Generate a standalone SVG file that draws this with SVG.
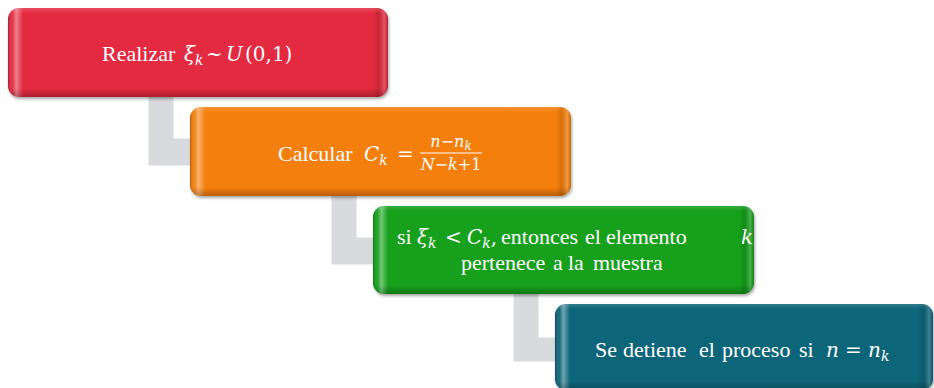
<svg xmlns="http://www.w3.org/2000/svg" width="934" height="388" viewBox="0 0 934 388">
<defs>
<linearGradient id="hbev" x1="0" y1="0" x2="1" y2="0">
<stop offset="0" stop-color="#000" stop-opacity="0.25"/>
<stop offset="0.012" stop-color="#fff" stop-opacity="0.05"/>
<stop offset="0.022" stop-color="#fff" stop-opacity="0.4"/>
<stop offset="0.04" stop-color="#fff" stop-opacity="0"/>
<stop offset="0.96" stop-color="#000" stop-opacity="0"/>
<stop offset="0.975" stop-color="#000" stop-opacity="0.12"/>
<stop offset="0.99" stop-color="#fff" stop-opacity="0.2"/>
<stop offset="1" stop-color="#000" stop-opacity="0.2"/>
</linearGradient>
<linearGradient id="vbev" x1="0" y1="0" x2="0" y2="1">
<stop offset="0" stop-color="#fff" stop-opacity="0.15"/>
<stop offset="0.06" stop-color="#fff" stop-opacity="0"/>
<stop offset="0.9" stop-color="#000" stop-opacity="0"/>
<stop offset="1" stop-color="#000" stop-opacity="0.25"/>
</linearGradient>
<filter id="sh" x="-5%" y="-10%" width="110%" height="125%">
<feDropShadow dx="1" dy="2" stdDeviation="1.5" flood-color="#000" flood-opacity="0.35"/>
</filter>
<style>
.box{stroke:none;filter:url(#sh)}
.hb{fill:url(#hbev)}
.vb{fill:url(#vbev)}
.t{font-family:"Liberation Serif","Times New Roman",serif;font-size:22px;fill:#fff}
.m{font-family:"DejaVu Serif","Liberation Serif",serif;font-style:italic;font-size:20px;fill:#fff}
.m.f{font-size:16px}
.s{font-size:14px}
.f .s{font-size:12px}
.n{font-style:normal}
.conn{fill:#d9dadd;stroke:#fff;stroke-width:1}
</style>
</defs>
<rect width="934" height="388" fill="#fff"/>
<g id="connectors">
<path class="conn" d="M148,96 H174 V138 H192 V166 H148 Z"/>
<path class="conn" d="M331,194 H357 V237 H375 V265 H331 Z"/>
<path class="conn" d="M513,293 H539 V337 H557 V362 H513 Z"/>
</g>
<g id="node1">
<rect class="box" x="8" y="8" width="380" height="89" rx="11" fill="#e42b40"/>
<rect class="hb" x="8" y="8" width="380" height="89" rx="11"/>
<rect class="vb" x="8" y="8" width="380" height="89" rx="11"/>
<text class="t" x="102" y="61">Realizar</text>
<text class="m" y="61"><tspan x="184">ξ</tspan><tspan class="s" dy="4">k</tspan><tspan class="n" dy="-4" x="206">~</tspan><tspan x="226">U</tspan><tspan class="n" x="245">(0,1)</tspan></text>
</g>
<g id="node2">
<rect class="box" x="190" y="107" width="381" height="89" rx="11" fill="#f57f08"/>
<rect class="hb" x="190" y="107" width="381" height="89" rx="11"/>
<rect class="vb" x="190" y="107" width="381" height="89" rx="11"/>
<text class="t" x="278" y="161">Calcular</text>
<text class="m" y="161"><tspan x="364">C</tspan><tspan class="s" dy="4">k</tspan><tspan class="n" dy="-4" x="397">=</tspan></text>
<text class="m f" x="451" y="147" text-anchor="middle">n<tspan class="n">−</tspan>n<tspan class="s" dy="3">k</tspan></text>
<line x1="420" y1="153" x2="482" y2="153" stroke="#fff" stroke-width="1.2"/>
<text class="m f" x="451" y="170" text-anchor="middle">N<tspan class="n">−</tspan>k<tspan class="n">+1</tspan></text>
</g>
<g id="node3">
<rect class="box" x="373" y="206" width="381" height="88" rx="11" fill="#13a01d"/>
<rect class="hb" x="373" y="206" width="381" height="88" rx="11"/>
<rect class="vb" x="373" y="206" width="381" height="88" rx="11"/>
<text class="t" y="244"><tspan x="397">si</tspan><tspan x="501">entonces</tspan><tspan x="585">el</tspan><tspan x="606">elemento</tspan></text>
<text class="m" y="244"><tspan x="417">ξ</tspan><tspan class="s" dy="4">k</tspan><tspan class="n" dy="-4" x="445">&lt;</tspan><tspan x="467">C</tspan><tspan class="s" dy="4">k</tspan><tspan class="n" dy="-4">,</tspan><tspan x="741">k</tspan></text>
<text class="t" y="270"><tspan x="461">pertenece</tspan><tspan x="553">a</tspan><tspan x="568">la</tspan><tspan x="593">muestra</tspan></text>
</g>
<g id="node4">
<rect class="box" x="555" y="304" width="378" height="86" rx="11" fill="#0c657a"/>
<rect class="hb" x="555" y="304" width="378" height="86" rx="11"/>
<rect class="vb" x="555" y="304" width="378" height="86" rx="11"/>
<text class="t" y="357"><tspan x="595">Se</tspan><tspan x="623">detiene</tspan><tspan x="699">el</tspan><tspan x="722">proceso</tspan><tspan x="799">si</tspan></text>
<text class="m" y="357"><tspan x="826">n</tspan><tspan class="n" x="845">=</tspan><tspan x="868">n</tspan><tspan class="s" dy="4">k</tspan></text>
</g>
</svg>
